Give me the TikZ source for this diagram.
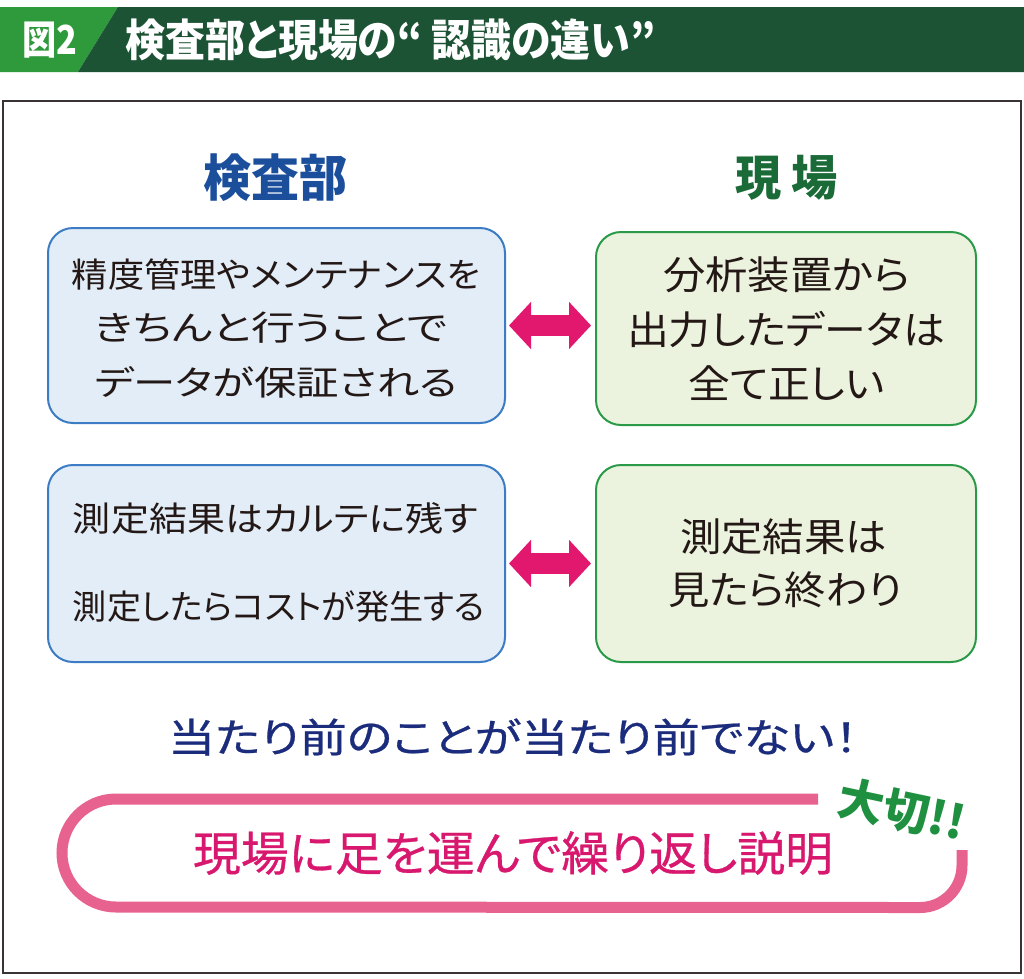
\documentclass[tikz,border=0pt]{standalone}
\usepackage{fontspec}
\setmainfont{Noto Sans CJK JP}[RawFeature={+palt}]
\newfontfamily\medfont{Noto Sans CJK JP}[RawFeature={+palt}, FakeBold=0.6]
\usetikzlibrary{arrows.meta}
\newcommand\fitto[2]{\resizebox{#1}{\height}{#2}}
\definecolor{hdrlight}{HTML}{2F9A3C}
\definecolor{hdrdark}{HTML}{1C5334}
\definecolor{headblue}{HTML}{1B4E9B}
\definecolor{headgreen}{HTML}{1B6B38}
\definecolor{lboxline}{HTML}{3B7CC4}
\definecolor{lboxfill}{HTML}{E2EDF8}
\definecolor{rboxline}{HTML}{2B9A48}
\definecolor{rboxfill}{HTML}{EBF3DE}
\definecolor{arrowpink}{HTML}{E2186F}
\definecolor{navy}{HTML}{1C2C7C}
\definecolor{pinktext}{HTML}{D8186E}
\definecolor{pinkband}{HTML}{E8628F}
\definecolor{taisetsu}{HTML}{1E9040}
\definecolor{framegray}{HTML}{3A3334}
\definecolor{bodytext}{HTML}{231815}
\tikzset{
  txt/.style={inner sep=0pt, anchor=center},
  lbox/.style={draw=lboxline, fill=lboxfill, line width=2pt, rounded corners=25pt, inner sep=0pt},
  rbox/.style={draw=rboxline, fill=rboxfill, line width=2pt, rounded corners=25pt, inner sep=0pt},
  ltext/.style={txt, text=bodytext, font=\fontsize{34}{40}\selectfont},
  rtext/.style={txt, text=bodytext, font=\fontsize{39}{46}\selectfont},
  dblarrow/.style={draw=arrowpink, line width=21pt, {Triangle[width=46pt,length=22pt]}-{Triangle[width=46pt,length=22pt]}},
}
\begin{document}
\begin{tikzpicture}[x=1pt,y=-1pt]
\useasboundingbox (0,0) rectangle (1024,978);
\fill[white] (0,0) rectangle (1024,978);
% header
\fill[hdrlight] (0,7) -- (118,7) -- (78,72) -- (0,72) -- cycle;
\fill[hdrdark] (118,7) -- (1024,7) -- (1024,72) -- (78,72) -- cycle;
\node[txt, text=white, font=\bfseries\fontsize{40}{44}\selectfont] (fig) at (49.5,40) {\fitto{55pt}{図2}};
\node[txt, text=white, font=\bfseries\fontsize{44}{48}\selectfont, anchor=west] (title) at (125,40) {\fitto{530pt}{検査部と現場の“ 認識の違い”}};
% frame
\draw[framegray, line width=2pt] (2.5,101) rectangle (1021,972.5);
% headings
\node[txt, text=headblue, font=\bfseries\fontsize{50}{54}\selectfont] (hk) at (275,178) {\fitto{144pt}{検査部}};
\node[txt, text=headgreen, font=\bfseries\fontsize{48}{52}\selectfont] (hg) at (786.5,178) {\fitto{103pt}{現 場}};
% boxes
\node[lbox, minimum width=457pt, minimum height=195pt] (L1) at (276.5,325.5) {};
\node[rbox, minimum width=380pt, minimum height=193pt] (R1) at (786,328.5) {};
\node[lbox, minimum width=457pt, minimum height=197pt] (L2) at (276.5,563.5) {};
\node[rbox, minimum width=380pt, minimum height=197pt] (R2) at (786,563.5) {};
% box texts
\node[ltext] (L1a) at (276,275) {\fitto{408pt}{精度管理やメンテナンスを}};
\node[ltext] (L1b) at (271,328) {\fitto{352pt}{きちんと行うことで}};
\node[ltext] (L1c) at (276,382) {\fitto{363pt}{データが保証される}};
\node[rtext] (R1a) at (786.5,275) {\fitto{247pt}{分析装置から}};
\node[rtext] (R1b) at (786,330) {\fitto{318pt}{出力したデータは}};
\node[rtext] (R1c) at (786.5,383) {\fitto{197pt}{全て正しい}};
\node[ltext] (L2a) at (275.5,518) {\fitto{405pt}{測定結果はカルテに残す}};
\node[ltext] (L2b) at (279,607) {\fitto{412pt}{測定したらコストが発生する}};
\node[rtext] (R2a) at (783.5,537) {\fitto{207pt}{測定結果は}};
\node[rtext] (R2b) at (785,590) {\fitto{234pt}{見たら終わり}};
% arrows
\draw[dblarrow, shorten <=3pt, shorten >=4pt] (L1.east) -- (L1.east -| R1.west);
\draw[dblarrow, shorten <=3pt, shorten >=4pt] (L2.east) -- (L2.east -| R2.west);
% message
\node[txt, text=navy, font=\medfont\fontsize{40}{44}\selectfont] (msg) at (513,737) {\fitto{690pt}{当たり前のことが当たり前でない！}};
% pink band
\draw[pinkband, line width=11pt] (818,799) -- (116,799) arc[start angle=270, end angle=90, radius=54] -- (920,907.5) arc[start angle=90, end angle=0, radius=42] -- (962,850);
\node[txt, text=pinktext, font=\medfont\fontsize{47}{52}\selectfont] (act) at (513,853) {\fitto{640pt}{現場に足を運んで繰り返し説明}};
\node[txt, text=taisetsu, font=\bfseries\fontsize{46}{50}\selectfont, rotate=-12] (imp) at (902,810) {大切!!};
\end{tikzpicture}
\end{document}
